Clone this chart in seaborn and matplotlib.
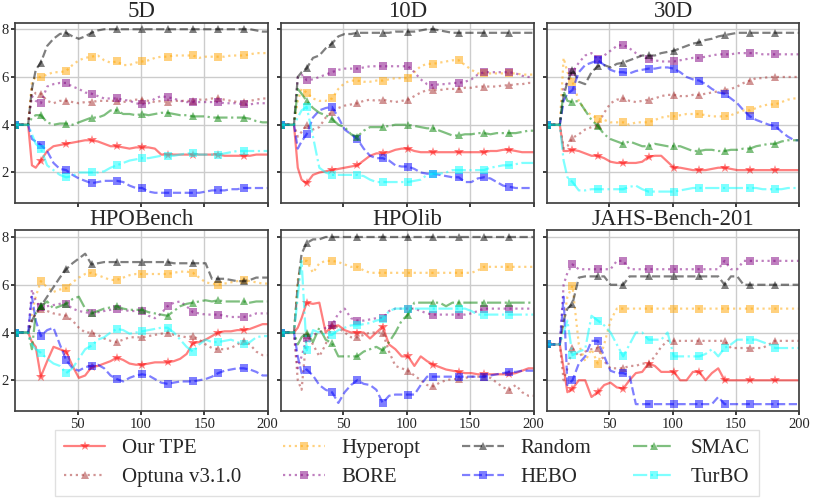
import numpy as np
import pandas as pd
import seaborn as sns
import matplotlib.pyplot as plt

## rank of each optimizer vs. number of evaluations, 6 benchmark groups

steps = [1, 11, 14, 17] + list(range(21, 200, 5)) + [200]

methods = ["Our TPE", "Optuna v3.1.0", "Hyperopt", "BORE", "Random", "HEBO", "SMAC", "TurBO"]
panels = ["5D", "10D", "30D", "HPOBench", "HPOlib", "JAHS-Bench-201"]

# ---- 5D
d5_tpe = [4, 4, 2.3, 2.2, 2.5, 2.9, 3.1, 3.15, 3.2, 3.25, 3.3, 3.35, 3.35, 3.3, 3.2, 3.1, 3.1, 3.05, 3.0, 3.05,
          3.05, 3.05, 3.0, 2.75, 2.75, 2.75, 2.75, 2.75, 2.75, 2.75, 2.75, 2.75, 2.75, 2.7, 2.7, 2.7, 2.7, 2.7, 2.75, 2.75, 2.75]
d5_optuna = [4, 4, 5.5, 5.3, 5.3, 5.0, 4.9, 5.0, 5.0, 4.95, 4.9, 4.95, 4.95, 5.0, 5.0, 5.0, 5.0, 4.95, 5.0, 5.05,
             5.05, 5.0, 4.95, 5.0, 4.95, 5.0, 5.0, 5.0, 5.0, 5.05, 5.05, 5.1, 5.1, 5.05, 5.0, 4.95, 4.95, 5.0, 5.05, 5.1, 5.1]
d5_hyperopt = [4, 4, 5.8, 6.0, 6.0, 6.1, 6.2, 6.2, 6.25, 6.5, 6.7, 6.8, 6.85, 6.9, 6.7, 6.6, 6.65, 6.5, 6.5, 6.6,
               6.65, 6.7, 6.8, 6.85, 6.85, 6.9, 6.9, 6.9, 6.9, 6.8, 6.85, 6.85, 6.85, 6.85, 6.9, 6.9, 6.9, 6.95, 7.0, 7.0, 7.0]
d5_bore = [4, 4, 5.2, 5.0, 4.9, 5.6, 5.7, 5.75, 5.75, 5.6, 5.5, 5.35, 5.3, 5.2, 5.1, 5.1, 5.1, 5.05, 5.0, 4.9,
           4.85, 4.9, 5.1, 5.2, 5.15, 5.1, 5.0, 4.95, 4.95, 4.95, 4.95, 4.95, 4.95, 4.9, 4.9, 4.9, 4.85, 4.85, 4.9, 4.9, 4.9]
d5_random = [4, 4, 5.5, 6.3, 6.6, 7.3, 7.6, 7.8, 7.85, 7.7, 7.6, 7.7, 7.85, 7.95, 8.0, 8.0, 8.0, 8.0, 8.0, 8.0,
             8.0, 8.0, 8.0, 8.0, 8.0, 8.0, 8.0, 8.0, 8.0, 8.0, 8.0, 8.0, 8.0, 8.0, 8.0, 8.0, 8.0, 8.0, 7.95, 7.9, 7.9]
d5_hebo = [4, 4, 3.4, 3.3, 3.15, 2.9, 2.4, 2.15, 2.1, 1.9, 1.75, 1.65, 1.55, 1.6, 1.65, 1.65, 1.65, 1.6, 1.45, 1.35,
           1.35, 1.2, 1.15, 1.15, 1.15, 1.15, 1.15, 1.15, 1.15, 1.15, 1.2, 1.25, 1.25, 1.25, 1.3, 1.3, 1.35, 1.35, 1.35, 1.35, 1.35]
d5_smac = [4, 4, 4.3, 4.4, 4.4, 4.1, 4.0, 4.05, 4.05, 4.0, 4.1, 4.2, 4.3, 4.3, 4.4, 4.6, 4.6, 4.45, 4.45, 4.4,
           4.45, 4.4, 4.45, 4.5, 4.5, 4.45, 4.4, 4.4, 4.35, 4.35, 4.35, 4.3, 4.3, 4.3, 4.3, 4.3, 4.3, 4.25, 4.15, 4.1, 4.1]
d5_turbo = [4, 4, 3.6, 3.2, 3.0, 2.3, 2.1, 1.9, 1.8, 1.85, 2.0, 2.0, 2.0, 2.0, 2.05, 2.2, 2.3, 2.4, 2.5, 2.55,
            2.6, 2.6, 2.65, 2.7, 2.7, 2.7, 2.75, 2.8, 2.8, 2.75, 2.75, 2.75, 2.75, 2.8, 2.85, 2.9, 2.9, 2.9, 2.9, 2.9, 2.9]

# ---- 10D
d10_tpe = [4, 4, 2.2, 1.7, 1.55, 1.9, 2.0, 2.05, 2.1, 2.15, 2.2, 2.25, 2.3, 2.5, 2.7, 2.8, 2.8, 2.85, 2.95, 3.0,
           3.0, 2.9, 2.85, 2.85, 2.85, 2.85, 2.85, 2.85, 2.85, 2.85, 2.85, 2.85, 2.85, 2.9, 2.9, 2.95, 2.95, 2.9, 2.85, 2.85, 2.85]
d10_optuna = [4, 4, 3.5, 3.7, 4.0, 3.8, 3.9, 4.3, 4.55, 4.7, 4.8, 4.85, 4.9, 5.0, 5.05, 5.0, 5.05, 5.0, 4.95, 5.0,
              5.05, 5.2, 5.35, 5.45, 5.45, 5.45, 5.5, 5.5, 5.5, 5.55, 5.55, 5.6, 5.6, 5.6, 5.6, 5.65, 5.65, 5.7, 5.7, 5.75, 5.75]
d10_hyperopt = [4, 4, 5.0, 5.5, 5.35, 5.1, 5.0, 5.0, 5.1, 5.5, 5.75, 5.85, 5.85, 5.8, 5.8, 5.85, 5.85, 5.9, 5.95, 5.95,
                5.95, 6.2, 6.45, 6.55, 6.55, 6.6, 6.65, 6.7, 6.7, 6.5, 6.3, 6.15, 6.15, 6.15, 6.15, 6.15, 6.15, 6.15, 6.1, 6.1, 6.1]
d10_bore = [4, 4, 6.0, 6.1, 5.87, 5.9, 6.0, 6.1, 6.2, 6.3, 6.35, 6.35, 6.35, 6.4, 6.45, 6.45, 6.45, 6.45, 6.45, 6.45,
            6.45, 6.2, 5.9, 5.7, 5.65, 5.7, 5.7, 5.75, 5.75, 5.8, 5.9, 6.1, 6.2, 6.2, 6.2, 6.2, 6.2, 6.15, 6.05, 6.0, 6.0]
d10_random = [4, 4, 6.0, 6.2, 6.36, 6.8, 6.9, 7.2, 7.4, 7.7, 7.8, 7.8, 7.85, 7.85, 7.85, 7.85, 7.85, 7.85, 7.9, 7.9,
              7.9, 7.9, 7.95, 8.0, 8.0, 7.95, 7.9, 7.85, 7.85, 7.85, 7.85, 7.85, 7.85, 7.85, 7.85, 7.85, 7.85, 7.85, 7.85, 7.85, 7.85]
d10_hebo = [4, 4, 3.0, 3.3, 3.6, 4.3, 4.6, 4.7, 4.75, 4.3, 3.8, 3.6, 3.4, 3.0, 2.7, 2.6, 2.6, 2.5, 2.3, 2.25,
            2.25, 2.15, 2.0, 1.95, 1.95, 1.9, 1.85, 1.8, 1.8, 1.6, 1.6, 1.75, 1.8, 1.75, 1.6, 1.45, 1.4, 1.35, 1.35, 1.35, 1.35]
d10_smac = [4, 4, 5.5, 5.3, 5.0, 4.7, 4.5, 4.4, 4.25, 4.0, 3.9, 3.6, 3.5, 3.75, 3.9, 3.9, 3.9, 3.95, 4.0, 4.0,
            4.0, 3.95, 3.9, 3.85, 3.85, 3.75, 3.65, 3.55, 3.55, 3.6, 3.6, 3.65, 3.65, 3.6, 3.65, 3.65, 3.65, 3.65, 3.7, 3.75, 3.75]
d10_turbo = [4, 4, 4.3, 4.6, 4.75, 3.5, 2.2, 2.0, 1.9, 1.9, 1.9, 1.9, 1.9, 1.85, 1.7, 1.6, 1.6, 1.6, 1.6, 1.6,
             1.6, 1.65, 1.7, 1.9, 1.95, 1.95, 2.0, 2.1, 2.1, 2.1, 2.1, 2.1, 2.1, 2.2, 2.25, 2.3, 2.3, 2.35, 2.4, 2.4, 2.4]

# ---- 30D
d30_tpe = [4, 4, 2.9, 2.9, 2.95, 2.9, 2.8, 2.7, 2.7, 2.6, 2.45, 2.4, 2.4, 2.4, 2.4, 2.45, 2.65, 2.7, 2.7, 2.45,
           2.2, 2.2, 2.15, 2.1, 2.1, 2.1, 2.15, 2.2, 2.2, 2.15, 2.1, 2.1, 2.1, 2.1, 2.1, 2.1, 2.1, 2.1, 2.1, 2.1, 2.1]
d30_optuna = [4, 4, 3.0, 3.1, 3.45, 3.6, 3.8, 3.9, 4.0, 4.5, 4.9, 5.05, 5.1, 5.0, 4.95, 5.0, 5.05, 5.1, 5.2, 5.25,
              5.25, 5.2, 5.2, 5.25, 5.25, 5.3, 5.35, 5.4, 5.45, 5.5, 5.6, 5.75, 5.85, 5.95, 5.95, 6.0, 6.0, 6.0, 6.0, 6.0, 6.0]
d30_hyperopt = [4, 4, 6.8, 6.2, 5.8, 5.0, 4.6, 4.4, 4.25, 4.2, 4.1, 4.1, 4.1, 4.0, 4.1, 4.1, 4.1, 4.2, 4.3, 4.35,
                4.35, 4.4, 4.45, 4.45, 4.45, 4.4, 4.35, 4.35, 4.35, 4.4, 4.5, 4.6, 4.6, 4.7, 4.8, 4.85, 4.85, 4.95, 5.05, 5.1, 5.1]
d30_bore = [4, 4, 5.5, 5.8, 6.2, 6.6, 6.9, 7.0, 6.75, 6.9, 7.1, 7.3, 7.35, 7.2, 7.0, 6.85, 6.75, 6.7, 6.65, 6.65,
            6.65, 6.7, 6.75, 6.8, 6.8, 6.85, 6.9, 6.95, 6.95, 6.95, 7.0, 7.0, 7.0, 7.0, 6.95, 6.95, 6.95, 6.95, 6.95, 6.95, 6.95]
d30_random = [4, 4, 5.2, 5.8, 6.3, 5.8, 5.7, 6.2, 6.45, 6.5, 6.4, 6.55, 6.6, 6.7, 6.8, 6.9, 6.9, 6.9, 7.0, 7.05,
              7.1, 7.2, 7.3, 7.4, 7.45, 7.55, 7.6, 7.7, 7.75, 7.8, 7.85, 7.85, 7.85, 7.85, 7.85, 7.85, 7.85, 7.85, 7.85, 7.85, 7.85]
d30_hebo = [4, 4, 5.0, 5.3, 5.45, 6.2, 6.5, 6.6, 6.7, 6.5, 6.3, 6.2, 6.2, 6.15, 6.25, 6.3, 6.35, 6.35, 6.4, 6.4,
            6.35, 6.2, 6.0, 5.9, 5.85, 5.7, 5.5, 5.35, 5.3, 5.1, 4.9, 4.6, 4.35, 4.2, 4.1, 4.0, 3.95, 3.7, 3.5, 3.35, 3.35]
d30_smac = [4, 4, 5.4, 5.0, 4.95, 5.0, 4.6, 4.2, 3.95, 3.6, 3.4, 3.3, 3.2, 3.3, 3.2, 3.1, 3.1, 3.2, 3.15, 3.1,
            3.1, 3.1, 3.0, 2.9, 2.9, 2.95, 2.95, 2.9, 2.9, 2.95, 2.95, 3.0, 3.0, 3.1, 3.15, 3.2, 3.2, 3.3, 3.35, 3.35, 3.35]
d30_turbo = [4, 4, 2.5, 1.8, 1.6, 1.25, 1.25, 1.3, 1.3, 1.3, 1.3, 1.3, 1.3, 1.4, 1.45, 1.3, 1.2, 1.2, 1.2, 1.2,
             1.2, 1.25, 1.3, 1.35, 1.35, 1.35, 1.35, 1.35, 1.35, 1.35, 1.35, 1.35, 1.35, 1.35, 1.3, 1.3, 1.3, 1.3, 1.35, 1.35, 1.35]

# ---- HPOBench
hb_tpe = [4, 4, 3.6, 3.4, 2.15, 2.8, 3.4, 3.3, 3.2, 2.6, 2.1, 2.2, 2.55, 2.6, 2.7, 2.8, 2.95, 2.85, 2.7, 2.65,
          2.65, 2.7, 2.75, 2.75, 2.75, 2.8, 2.9, 3.1, 3.55, 3.6, 3.7, 3.85, 4.0, 4.05, 4.05, 4.1, 4.1, 4.15, 4.25, 4.35, 4.35]
hb_optuna = [4, 4, 4.5, 4.8, 5.0, 4.9, 4.8, 4.75, 4.7, 4.5, 4.2, 4.0, 4.0, 3.9, 3.75, 3.65, 3.6, 3.7, 3.8, 3.8,
             3.8, 3.85, 3.9, 3.95, 4.0, 3.9, 3.85, 3.8, 3.85, 3.7, 3.5, 3.35, 3.3, 3.3, 3.35, 3.5, 3.65, 3.5, 3.2, 3.05, 3.05]
hb_hyperopt = [4, 4, 4.8, 5.5, 6.15, 5.9, 5.7, 5.8, 5.85, 6.1, 6.3, 6.45, 6.5, 6.4, 6.3, 6.2, 6.2, 6.3, 6.4, 6.45,
               6.45, 6.45, 6.45, 6.45, 6.45, 6.5, 6.55, 6.55, 6.5, 6.3, 6.1, 6.05, 6.0, 6.05, 6.1, 6.15, 6.2, 6.15, 6.1, 6.05, 6.05]
hb_bore = [4, 4, 5.8, 5.3, 5.05, 5.1, 5.15, 5.2, 5.2, 5.0, 4.9, 4.85, 4.8, 4.85, 4.9, 4.95, 5.0, 4.95, 4.9, 4.9,
           4.9, 4.7, 4.6, 4.8, 5.1, 5.25, 5.3, 5.1, 4.85, 4.8, 4.75, 4.75, 4.75, 4.7, 4.65, 4.65, 4.65, 4.7, 4.8, 4.8, 4.8]
hb_random = [4, 4, 4.5, 4.8, 5.1, 5.5, 5.9, 6.3, 6.65, 6.9, 7.1, 7.3, 6.85, 6.9, 6.95, 6.95, 6.95, 6.95, 6.95, 6.95,
             6.95, 6.95, 6.95, 6.95, 6.95, 6.9, 6.9, 6.9, 6.9, 6.9, 6.9, 6.25, 6.25, 6.25, 6.2, 6.15, 6.15, 6.2, 6.3, 6.3, 6.3]
hb_hebo = [4, 4, 5.5, 4.5, 3.85, 4.1, 4.2, 3.5, 2.85, 2.5, 2.4, 2.55, 2.6, 2.65, 2.5, 2.2, 2.05, 1.95, 2.1, 2.2,
           2.25, 2.2, 2.05, 1.9, 1.85, 1.9, 1.95, 1.95, 1.95, 2.0, 2.05, 2.15, 2.3, 2.4, 2.45, 2.5, 2.5, 2.45, 2.35, 2.2, 2.2]
hb_smac = [4, 4, 3.3, 4.8, 5.1, 5.3, 5.0, 5.1, 5.2, 5.4, 5.5, 5.0, 4.8, 4.9, 5.0, 5.05, 5.1, 5.0, 4.95, 4.95,
           4.95, 4.85, 4.8, 4.75, 4.7, 4.9, 5.1, 5.2, 5.25, 5.3, 5.35, 5.3, 5.35, 5.3, 5.3, 5.3, 5.3, 5.25, 5.3, 5.3, 5.3]
hb_turbo = [4, 4, 3.5, 3.3, 3.15, 2.9, 2.7, 2.6, 2.3, 2.5, 2.9, 3.3, 3.45, 3.7, 3.8, 4.0, 4.15, 4.1, 3.95, 4.0,
            4.05, 4.1, 4.15, 4.2, 4.2, 4.0, 3.7, 3.4, 3.2, 3.5, 3.7, 3.6, 3.6, 3.65, 3.7, 3.6, 3.5, 3.6, 3.8, 3.85, 3.85]

# ---- HPOlib
hl_tpe = [4, 4, 4.2, 4.6, 5.25, 5.2, 5.25, 4.0, 4.25, 4.3, 4.1, 4.0, 4.0, 4.0, 3.75, 4.0, 4.25, 3.5, 3.3, 3.0,
          3.0, 2.6, 3.0, 2.8, 2.65, 2.55, 2.45, 2.4, 2.35, 2.3, 2.3, 2.25, 2.25, 2.25, 2.25, 2.25, 2.25, 2.3, 2.4, 2.5, 2.5]
hl_optuna = [4, 4, 2.0, 1.6, 3.9, 3.5, 3.0, 3.5, 4.3, 4.2, 4.0, 3.8, 3.8, 3.9, 4.0, 4.0, 4.0, 3.2, 2.6, 2.5,
             2.4, 2.2, 2.0, 1.8, 1.75, 1.9, 2.0, 2.05, 2.05, 2.1, 2.15, 2.15, 2.15, 2.1, 1.9, 1.7, 1.6, 1.8, 1.5, 1.35, 1.35]
hl_hyperopt = [4, 4, 6.2, 7.0, 7.0, 6.5, 6.9, 7.0, 7.0, 6.95, 6.85, 6.75, 6.75, 6.6, 6.5, 6.5, 6.5, 6.5, 6.5, 6.5,
               6.5, 6.5, 6.5, 6.5, 6.5, 6.5, 6.5, 6.5, 6.5, 6.5, 6.5, 6.6, 6.75, 6.75, 6.75, 6.75, 6.75, 6.75, 6.75, 6.75, 6.75]
hl_bore = [4, 4, 2.5, 3.0, 3.75, 3.9, 4.0, 4.2, 4.3, 4.8, 5.0, 4.6, 4.5, 4.5, 4.55, 4.6, 4.6, 4.9, 5.0, 5.0,
           5.0, 5.0, 4.9, 4.8, 4.75, 4.75, 4.75, 4.75, 4.75, 4.75, 4.8, 4.9, 5.0, 5.0, 5.0, 5.0, 5.0, 5.0, 5.0, 5.0, 5.0]
hl_random = [4, 4, 6.0, 7.3, 7.75, 7.9, 7.9, 8.0, 8.0, 8.0, 8.0, 8.0, 8.0, 8.0, 8.0, 8.0, 8.0, 8.0, 8.0, 8.0,
             8.0, 8.0, 8.0, 8.0, 8.0, 8.0, 8.0, 8.0, 8.0, 8.0, 8.0, 8.0, 8.0, 8.0, 8.0, 8.0, 8.0, 8.0, 8.0, 8.0, 8.0]
hl_hebo = [4, 4, 3.0, 2.3, 2.45, 2.2, 1.8, 1.6, 1.5, 1.05, 1.5, 1.8, 2.0, 1.85, 1.8, 1.6, 1.05, 1.35, 1.4, 1.4,
           1.4, 1.4, 1.8, 2.15, 2.15, 2.15, 2.15, 2.15, 2.15, 2.15, 2.15, 2.15, 2.15, 2.2, 2.25, 2.3, 2.35, 2.35, 2.4, 2.4, 2.4]
hl_smac = [4, 4, 3.5, 3.8, 4.0, 3.6, 4.2, 3.7, 3.55, 3.0, 3.0, 3.0, 3.0, 3.2, 3.3, 3.4, 3.25, 3.6, 4.0, 4.5,
           4.75, 5.25, 5.25, 5.25, 5.25, 5.25, 5.1, 5.25, 5.25, 5.25, 5.25, 5.25, 5.25, 5.25, 5.25, 5.25, 5.25, 5.25, 5.25, 5.25, 5.25]
hl_turbo = [4, 4, 5.5, 7.0, 3.25, 4.1, 4.0, 3.9, 3.9, 4.1, 4.2, 4.3, 4.3, 4.35, 4.4, 4.5, 4.55, 4.9, 5.0, 5.0,
            5.0, 5.0, 5.0, 5.0, 5.0, 5.0, 5.0, 5.0, 5.0, 5.0, 4.9, 4.75, 4.75, 4.75, 4.75, 4.75, 4.75, 4.75, 4.75, 4.75, 4.75]

# ---- JAHS-Bench-201 (no SMAC run here)
jb_tpe = [3.5, 3.5, 2.5, 1.5, 1.65, 2.0, 2.0, 1.3, 1.5, 1.8, 1.9, 1.7, 1.65, 2.0, 2.3, 2.35, 2.7, 2.6, 2.35, 2.35,
          2.35, 2.0, 2.0, 2.35, 2.35, 2.0, 2.3, 2.5, 2.0, 2.0, 2.0, 2.0, 2.0, 2.0, 2.0, 2.0, 2.0, 2.0, 2.0, 2.0, 2.0]
jb_optuna = [3.5, 3.5, 2.0, 2.5, 3.35, 3.0, 3.2, 3.3, 3.35, 2.8, 2.5, 2.5, 2.5, 2.6, 2.6, 2.7, 2.7, 3.0, 3.4, 3.65,
             3.65, 3.65, 3.65, 3.65, 3.65, 3.65, 3.65, 3.65, 3.65, 3.35, 3.35, 3.35, 3.35, 3.35, 3.35, 3.5, 3.65, 3.65, 3.65, 3.65, 3.65]
jb_hyperopt = [3.5, 3.5, 4.5, 5.5, 5.95, 3.5, 2.8, 3.3, 2.7, 3.5, 4.5, 5.0, 5.0, 5.0, 5.0, 5.0, 5.0, 5.0, 5.0, 5.0,
               5.0, 5.0, 5.0, 5.0, 5.0, 5.0, 5.0, 5.0, 5.0, 5.0, 5.0, 5.0, 5.0, 5.0, 5.0, 5.0, 5.0, 5.0, 5.0, 5.0, 5.0]
jb_bore = [3.5, 3.5, 6.0, 6.5, 6.85, 6.65, 6.65, 6.65, 6.65, 6.65, 6.65, 7.0, 7.0, 6.65, 6.65, 6.65, 6.65, 6.65, 6.65, 6.65,
           6.65, 6.65, 6.65, 6.65, 6.65, 6.65, 6.65, 6.65, 7.0, 6.65, 6.65, 7.0, 7.0, 7.0, 7.0, 7.0, 7.0, 7.0, 7.0, 7.0, 7.0]
jb_random = [3.5, 3.5, 4.5, 5.0, 5.2, 6.3, 6.35, 6.35, 6.35, 6.35, 6.0, 6.0, 6.0, 6.35, 6.35, 6.35, 6.35, 6.35, 6.35, 6.35,
             6.35, 6.35, 6.35, 6.35, 6.35, 6.35, 6.35, 6.35, 6.0, 6.35, 6.35, 6.0, 6.0, 6.0, 6.0, 6.0, 6.0, 6.0, 6.0, 6.0, 6.0]
jb_hebo = [3.5, 3.5, 5.5, 1.8, 2.0, 2.7, 3.0, 3.65, 3.65, 3.0, 2.4, 2.3, 2.3, 2.2, 1.0, 1.0, 1.0, 1.0, 1.0, 1.0,
           1.0, 1.0, 1.0, 1.0, 1.0, 1.0, 1.0, 1.3, 1.0, 1.0, 1.0, 1.0, 1.0, 1.0, 1.0, 1.0, 1.0, 1.0, 1.0, 1.0, 1.0]
jb_turbo = [3.5, 3.5, 4.0, 4.5, 3.05, 3.2, 3.3, 4.7, 4.5, 4.3, 4.0, 3.5, 3.0, 3.5, 4.0, 4.0, 3.7, 3.7, 3.7, 4.0,
            3.0, 3.0, 3.0, 3.0, 3.0, 3.1, 3.3, 3.0, 3.35, 3.5, 3.7, 3.7, 3.7, 3.7, 3.6, 3.5, 3.35, 3.35, 3.35, 3.35, 3.35]

ranks = {
    "5D": [d5_tpe, d5_optuna, d5_hyperopt, d5_bore, d5_random, d5_hebo, d5_smac, d5_turbo],
    "10D": [d10_tpe, d10_optuna, d10_hyperopt, d10_bore, d10_random, d10_hebo, d10_smac, d10_turbo],
    "30D": [d30_tpe, d30_optuna, d30_hyperopt, d30_bore, d30_random, d30_hebo, d30_smac, d30_turbo],
    "HPOBench": [hb_tpe, hb_optuna, hb_hyperopt, hb_bore, hb_random, hb_hebo, hb_smac, hb_turbo],
    "HPOlib": [hl_tpe, hl_optuna, hl_hyperopt, hl_bore, hl_random, hl_hebo, hl_smac, hl_turbo],
    "JAHS-Bench-201": [jb_tpe, jb_optuna, jb_hyperopt, jb_bore, jb_random, jb_hebo, None, jb_turbo],
}

colors = ["red", "brown", "orange", "purple", "black", "blue", "green", "cyan"]
markers = ["*", "^", "s", "s", "^", "s", "^", "s"]
lstyles = ["-", ":", ":", ":", "--", "--", "-.", "-."]

sns.set_theme(style="whitegrid", rc={"axes.edgecolor": "0.25", "grid.color": "0.8",
                                     "xtick.bottom": True, "ytick.left": True})
plt.rcParams["font.family"] = ["Liberation Serif", "DejaVu Serif"]

fig, axs = plt.subplots(2, 3, figsize=(8.14, 5.01), dpi=100, sharex=True, sharey=True)
fig.subplots_adjust(left=0.019, right=0.982, top=0.955, bottom=0.18, wspace=0.054, hspace=0.151)

mark_idx = list(range(0, 37, 4))  # markers at 1, 21, 41, ..., 181

for ax, name in zip(axs.flat, panels):
    for i, m in enumerate(methods):
        vals = ranks[name][i]
        if vals is None:
            continue
        df = pd.DataFrame({"n_evals": steps, "rank": vals})
        sns.lineplot(data=df, x="n_evals", y="rank", ax=ax, color=colors[i], linestyle=lstyles[i],
                     marker=markers[i], markevery=mark_idx, markersize=7 if markers[i] == "*" else 6,
                     markeredgewidth=0, linewidth=1.6, alpha=0.5, label=m, legend=False)
    if ax.get_legend() is not None:
        ax.get_legend().remove()
    ax.set_title(name, fontsize=16.5, pad=4)
    ax.set_xlabel("")
    ax.set_ylabel("")
    ax.set_xlim(1, 200)
    ax.set_ylim(0.72, 8.28)
    ax.set_xticks([50, 100, 150, 200])
    ax.set_yticks([2, 4, 6, 8])
    ax.tick_params(labelsize=10.5, length=3, pad=2)

handles, labels = axs[0, 0].get_legend_handles_labels()
fig.legend(handles, labels, loc="lower center", ncol=4, fontsize=15, bbox_to_anchor=(0.5, -0.01),
           columnspacing=2.0, labelspacing=0.45, handlelength=2.0, frameon=True, fancybox=False,
           edgecolor="0.85")

plt.savefig("out.png", dpi=100)
